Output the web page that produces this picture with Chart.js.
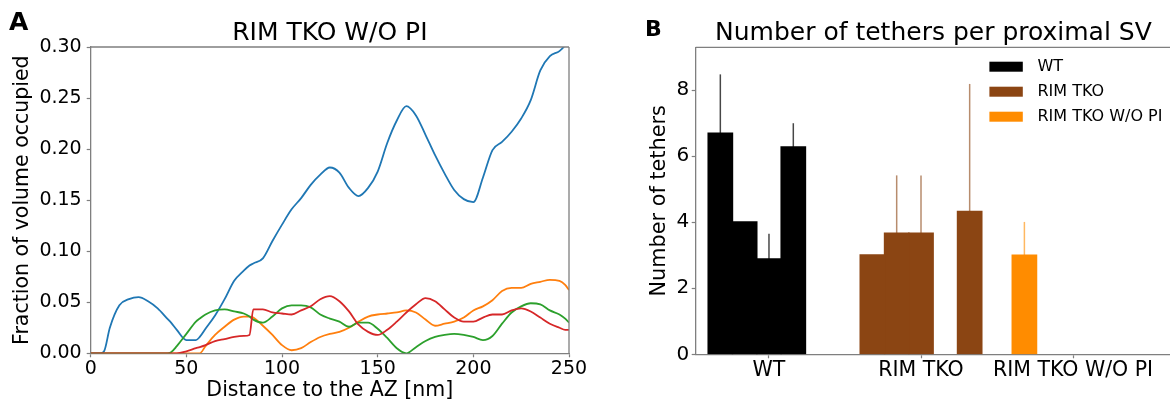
<!DOCTYPE html>
<html><head><meta charset="utf-8">
<script src="https://cdn.jsdelivr.net/npm/chart.js@4.4.1/dist/chart.umd.min.js"></script>
<style>
html,body{margin:0;padding:0;background:#fff;width:1170px;height:406px;overflow:hidden;position:relative}
canvas{position:absolute;top:0}
</style></head><body>
<canvas id="panelA" width="600" height="406" style="left:0"></canvas>
<canvas id="panelB" width="590" height="406" style="left:600px"></canvas>
<script>
// ---------- Panel A data ----------
const titleA = 'RIM TKO W/O PI';
const xTitleA = 'Distance to the AZ [nm]';
const yTitleA = 'Fraction of volume occupied';
const xTicksA = [0, 50, 100, 150, 200, 250];
const yTicksA = [0, 0.05, 0.10, 0.15, 0.20, 0.25, 0.30];
const distance = [0,5,7,10,15,20,25,30,35,40,42,45,50,55,57,60,65,70,75,80,83,85,90,95,100,105,110,115,120,125,130,135,140,145,150,155,160,165,170,175,180,185,190,195,200,205,210,215,220,225,230,235,240,245,248,250];
const blueSeries = [0,0,0.002,0.025,0.047,0.053,0.055,0.051,0.044,0.034,0.030,0.023,0.013,0.013,0.016,0.024,0.037,0.053,0.071,0.081,0.086,0.088,0.093,0.110,0.126,0.141,0.152,0.165,0.175,0.182,0.177,0.162,0.154,0.162,0.178,0.206,0.228,0.242,0.233,0.214,0.194,0.176,0.160,0.151,0.148,0.172,0.199,0.207,0.217,0.230,0.248,0.277,0.291,0.296,0.302,0.310];
const orangeSeries = [0,0,0,0,0,0,0,0,0,0,0,0,0,0,0,0.007,0.018,0.026,0.033,0.036,0.036,0.035,0.027,0.018,0.008,0.003,0.005,0.011,0.016,0.019,0.021,0.025,0.031,0.036,0.038,0.039,0.040,0.042,0.040,0.033,0.027,0.029,0.031,0.035,0.042,0.046,0.052,0.061,0.064,0.064,0.068,0.070,0.072,0.071,0.067,0.062];
const greenSeries = [0,0,0,0,0,0,0,0,0,0,0.001,0.007,0.019,0.031,0.034,0.038,0.042,0.043,0.041,0.039,0.036,0.033,0.030,0.036,0.044,0.047,0.047,0.045,0.038,0.034,0.031,0.026,0.030,0.030,0.024,0.015,0.005,0.000,0.006,0.012,0.016,0.018,0.019,0.018,0.016,0.013,0.017,0.029,0.040,0.046,0.049,0.048,0.042,0.038,0.034,0.030];
const redSeries = [0,0,0,0,0,0,0,0,0,0,0,0.000,0.002,0.005,0.006,0.008,0.012,0.014,0.016,0.017,0.018,0.043,0.043,0.040,0.039,0.038,0.042,0.046,0.053,0.056,0.051,0.041,0.028,0.021,0.018,0.023,0.031,0.040,0.048,0.054,0.051,0.043,0.035,0.031,0.031,0.035,0.038,0.038,0.042,0.044,0.041,0.035,0.029,0.025,0.023,0.023];

// ---------- Panel B data ----------
const titleB = 'Number of tethers per proximal SV';
const yTitleB = 'Number of tethers';
const groups = ['WT', 'RIM TKO', 'RIM TKO W/O PI'];
const yTicksB = [0, 2, 4, 6, 8];
const slot1 = [6.70, 3.01, 3.00];
const slot2 = [4.01, 3.67, null];
const slot3 = [2.89, 3.67, null];
const slot4 = [6.28, null, null];
const slot5 = [null, 4.33, null];
const err1 = [1.78, null, 1.01];
const err2 = [null, 1.75, null];
const err3 = [0.76, 1.75, null];
const err4 = [0.72, null, null];
const err5 = [null, 3.86, null];

const groupColors = ['#000000', '#8B4513', '#FF8C00'];
const groupErrColors = ['rgba(0,0,0,0.72)', 'rgba(139,69,19,0.62)', 'rgba(255,140,0,0.62)'];
const spineColor = '#7f7f7f';
const textColor = '#000';

Chart.defaults.font.family = '"DejaVu Sans", sans-serif';
Chart.defaults.color = textColor;

const framePlugin = {
  id: 'frame',
  afterDraw(chart, args, opts) {
    const {ctx, chartArea: a} = chart;
    ctx.save();
    ctx.strokeStyle = spineColor;
    ctx.lineWidth = 1.3;
    ctx.beginPath();
    ctx.moveTo(a.left, a.top); ctx.lineTo(a.right, a.top);
    if (opts.right) { ctx.moveTo(a.right, a.top); ctx.lineTo(a.right, a.bottom); }
    ctx.stroke();
    ctx.restore();
  }
};
const letterPlugin = {
  id: 'panelLetter',
  afterDraw(chart, args, opts) {
    const ctx = chart.ctx;
    ctx.save();
    ctx.fillStyle = '#000';
    ctx.font = 'bold ' + opts.size + 'px "DejaVu Sans"';
    ctx.textBaseline = 'alphabetic';
    ctx.textAlign = 'left';
    ctx.fillText(opts.text, opts.x, opts.y);
    ctx.restore();
  }
};
const errorBarPlugin = {
  id: 'errorBars',
  afterDatasetsDraw(chart) {
    const {ctx, scales: {y}} = chart;
    ctx.save();
    ctx.lineWidth = 1.5;
    chart.data.datasets.forEach((ds, i) => {
      const meta = chart.getDatasetMeta(i);
      ds.errs.forEach((e, j) => {
        if (e == null || ds.data[j].y == null) return;
        const bar = meta.data[j];
        ctx.strokeStyle = groupErrColors[j];
        ctx.beginPath();
        ctx.moveTo(bar.x, bar.y);
        ctx.lineTo(bar.x, y.getPixelForValue(ds.data[j].y + e));
        ctx.stroke();
      });
    });
    ctx.restore();
  }
};
const insideLegendPlugin = {
  id: 'insideLegend',
  afterDraw(chart) {
    const {ctx, chartArea: a} = chart;
    const x0 = a.right - 181.7;
    ctx.save();
    ctx.font = '16px "DejaVu Sans"';
    ctx.textBaseline = 'middle';
    ctx.textAlign = 'left';
    groups.forEach((g, i) => {
      const cy = a.top + 19.4 + 25 * i;
      ctx.fillStyle = groupColors[i];
      ctx.fillRect(x0, cy - 5, 33.4, 10);
      ctx.fillStyle = textColor;
      ctx.fillText(g, x0 + 48, cy);
    });
    ctx.restore();
  }
};

const mkLine = (label, ys, color, order) => ({
  label, order,
  data: distance.map((d, i) => ({x: d, y: ys[i]})),
  borderColor: color, backgroundColor: color,
  borderWidth: 1.8, pointRadius: 0, cubicInterpolationMode: 'monotone', fill: false
});

new Chart(document.getElementById('panelA'), {
  type: 'line',
  data: { datasets: [
    mkLine('C0', blueSeries, '#1f77b4', 4),
    mkLine('C1', orangeSeries, '#ff7f0e', 3),
    mkLine('C2', greenSeries, '#2ca02c', 2),
    mkLine('C3', redSeries, '#d62728', 1)
  ]},
  options: {
    responsive: false, animation: false,
    layout: { padding: {left: 0, right: 31, top: 0, bottom: 0} },
    plugins: {
      legend: {display: false}, tooltip: {enabled: false},
      title: { display: true, text: titleA, fullSize: false, color: textColor,
        font: {size: 25, weight: 'normal', lineHeight: 1}, padding: {top: 21, bottom: 1} },
      frame: {right: true},
      panelLetter: {text: 'A', x: 9, y: 30, size: 25}
    },
    scales: {
      x: { type: 'linear', min: 0, max: 250,
        afterBuildTicks: s => { s.ticks = xTicksA.map(v => ({value: v})); },
        afterFit: s => { s.height = 52.7; },
        ticks: { font: {size: 19}, padding: 0, maxRotation: 0, autoSkip: false, color: textColor },
        grid: { drawOnChartArea: false, tickLength: 4, color: spineColor, tickWidth: 1.2 },
        border: { color: spineColor, width: 1.3 },
        title: { display: true, text: xTitleA, font: {size: 20.5}, padding: {top: 0, bottom: 2.6}, color: textColor }
      },
      y: { type: 'linear', min: 0, max: 0.3,
        afterBuildTicks: s => { s.ticks = yTicksA.map(v => ({value: v})); },
        afterFit: s => { s.width = 90.7; },
        ticks: { font: {size: 19}, padding: 5, callback: v => v.toFixed(2), color: textColor },
        grid: { drawOnChartArea: false, tickLength: 4, color: spineColor, tickWidth: 1.2 },
        border: { color: spineColor, width: 1.3 },
        title: { display: true, text: yTitleA, font: {size: 20.5}, padding: {top: 10.6, bottom: 0}, color: textColor }
      }
    }
  },
  plugins: [framePlugin, letterPlugin]
});

const slots = [[slot1, err1], [slot2, err2], [slot3, err3], [slot4, err4], [slot5, err5]];
new Chart(document.getElementById('panelB'), {
  type: 'bar',
  data: { datasets: slots.map(([vals, errs], k) => ({
    label: 'slot' + (k + 1),
    data: vals.map((v, j) => ({x: j, y: v})),
    errs,
    backgroundColor: groupColors,
    borderWidth: 0,
    inflateAmount: 0.7,
    categoryPercentage: 0.8, barPercentage: 1.0
  }))},
  options: {
    responsive: false, animation: false,
    layout: { padding: {left: 0, right: 18.9, top: 0, bottom: 0} },
    plugins: {
      legend: {display: false}, tooltip: {enabled: false},
      title: { display: true, text: titleB, fullSize: false, color: textColor,
        font: {size: 25, weight: 'normal', lineHeight: 1}, padding: {top: 21.3, bottom: 1} },
      frame: {right: true},
      panelLetter: {text: 'B', x: 45, y: 36, size: 22}
    },
    scales: {
      x: { type: 'linear', min: -0.482, max: 2.645, offset: false,
        afterBuildTicks: s => { s.ticks = groups.map((g, i) => ({value: i})); },
        afterFit: s => { s.height = 51.7; },
        ticks: { font: {size: 20.5}, padding: 0, maxRotation: 0, autoSkip: false, color: textColor,
          callback: v => groups[v] },
        grid: { drawOnChartArea: false, tickLength: 4, color: spineColor, tickWidth: 1.2, offset: false },
        border: { color: spineColor, width: 1.3 }
      },
      y: { type: 'linear', min: 0, max: 9.3,
        afterBuildTicks: s => { s.ticks = yTicksB.map(v => ({value: v})); },
        afterFit: s => { s.width = 95.7; },
        ticks: { font: {size: 20}, padding: 2.5, color: textColor },
        grid: { drawOnChartArea: false, tickLength: 4, color: spineColor, tickWidth: 1.2 },
        border: { color: spineColor, width: 1.3 },
        title: { display: true, text: yTitleB, font: {size: 20.8}, padding: {top: 47, bottom: 0}, color: textColor }
      }
    }
  },
  plugins: [framePlugin, letterPlugin, errorBarPlugin, insideLegendPlugin]
});
</script>
</body></html>
